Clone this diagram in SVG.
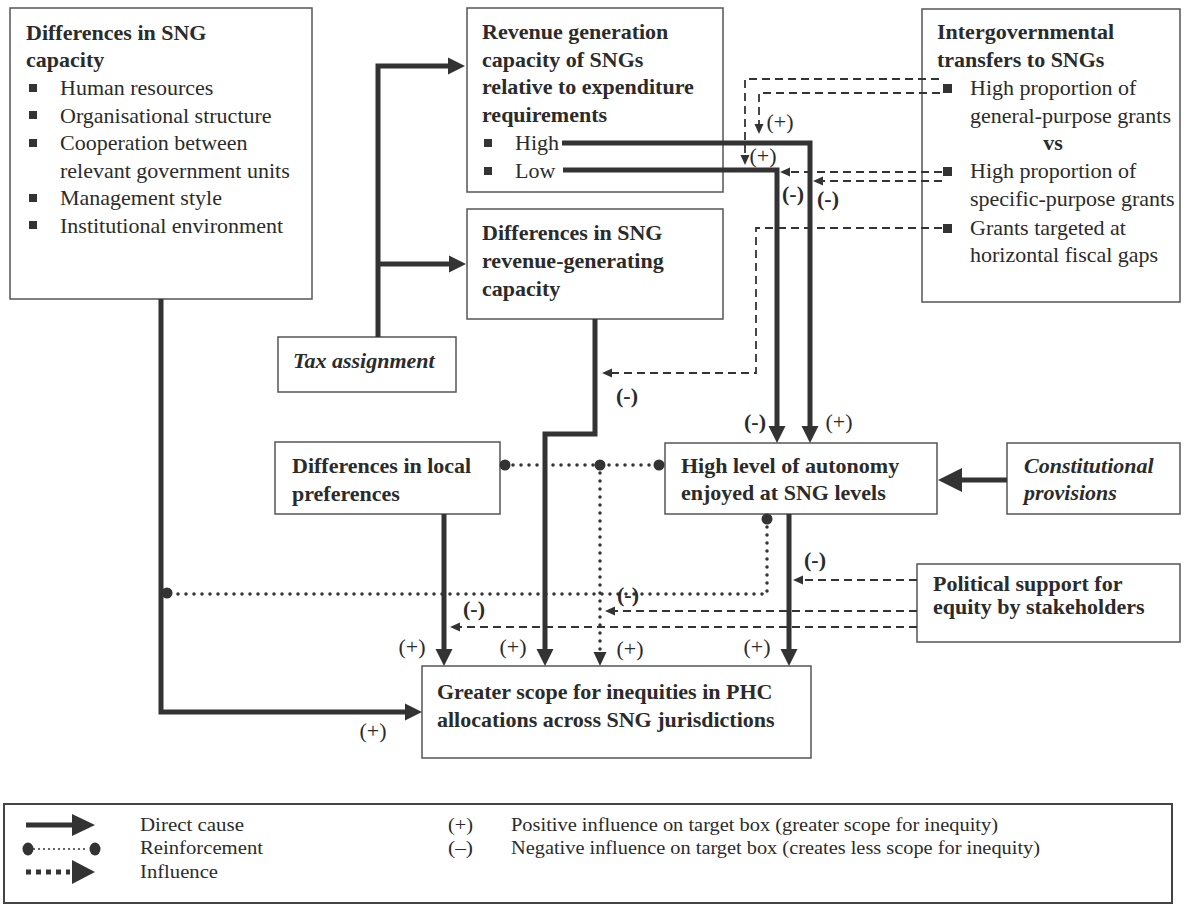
<svg xmlns="http://www.w3.org/2000/svg" width="1186" height="909" viewBox="0 0 1186 909">
<style>
text{font-family:"Liberation Serif","Times New Roman",serif;fill:#2b2b2b;font-size:22px}
.b{font-weight:bold}
.bi{font-weight:bold;font-style:italic}
.box{fill:#fff;stroke:#555;stroke-width:1.5}
.c{fill:none;stroke:#333;stroke-width:5}
.d{fill:none;stroke:#333;stroke-width:1.8;stroke-dasharray:8 5}
.r{fill:none;stroke:#333;stroke-width:3.5;stroke-dasharray:0 8;stroke-linecap:round}
.dot{fill:#333}
.sq{fill:#333}
.lab{text-anchor:middle}
.lg{font-size:18px}
</style>
<defs>
<marker id="aS" markerUnits="userSpaceOnUse" orient="auto" overflow="visible" refX="0" refY="0" markerWidth="20" markerHeight="20"><path d="M-3,-8.5 L14,0 L-3,8.5 z" fill="#333"/></marker>
<marker id="aB" markerUnits="userSpaceOnUse" orient="auto" overflow="visible" refX="0" refY="0" markerWidth="26" markerHeight="26"><path d="M-4,-12 L20,0 L-4,12 z" fill="#333"/></marker>
<marker id="aD" markerUnits="userSpaceOnUse" orient="auto" overflow="visible" refX="0" refY="0" markerWidth="12" markerHeight="12"><path d="M-2,-4.5 L8,0 L-2,4.5 z" fill="#333"/></marker>
<marker id="aR" markerUnits="userSpaceOnUse" orient="auto" overflow="visible" refX="0" refY="0" markerWidth="16" markerHeight="16"><path d="M-2,-6.5 L12,0 L-2,6.5 z" fill="#333"/></marker>
<marker id="aL" markerUnits="userSpaceOnUse" orient="auto" overflow="visible" refX="0" refY="0" markerWidth="26" markerHeight="26"><path d="M-3,-11 L20,0 L-3,11 z" fill="#333"/></marker>
</defs>

<g id="sng-capacity">
<rect class="box" x="10" y="8" width="302" height="291"/>
<text class="b" x="26" y="40">Differences in SNG</text>
<text class="b" x="26" y="67">capacity</text>
<rect class="sq" x="29" y="84" width="8" height="8"/><text x="60" y="95">Human resources</text>
<rect class="sq" x="29" y="111" width="8" height="8"/><text x="60" y="122.5">Organisational structure</text>
<rect class="sq" x="29" y="139" width="8" height="8"/><text x="60" y="150">Cooperation between</text>
<text x="60" y="177.5">relevant government units</text>
<rect class="sq" x="29" y="194" width="8" height="8"/><text x="60" y="205">Management style</text>
<rect class="sq" x="29" y="221" width="8" height="8"/><text x="60" y="232.5">Institutional environment</text>
</g>

<g id="revenue-capacity">
<rect class="box" x="467" y="8" width="256" height="184"/>
<text class="b" x="482" y="39">Revenue generation</text>
<text class="b" x="482" y="67">capacity of SNGs</text>
<text class="b" x="482" y="94">relative to expenditure</text>
<text class="b" x="482" y="122">requirements</text>
<rect class="sq" x="484" y="139" width="8" height="8"/><text x="515" y="150">High</text>
<rect class="sq" x="484" y="167" width="8" height="8"/><text x="515" y="178">Low</text>
</g>

<g id="transfers">
<rect class="box" x="922" y="9" width="258" height="293"/>
<text class="b" x="937" y="39">Intergovernmental</text>
<text class="b" x="937" y="67">transfers to SNGs</text>
<rect class="sq" x="943" y="84" width="9" height="9"/><text x="970" y="95">High proportion of</text>
<text x="970" y="123">general-purpose grants</text>
<text class="b" x="1053" y="150" text-anchor="middle">vs</text>
<rect class="sq" x="943" y="167" width="9" height="9"/><text x="970" y="178">High proportion of</text>
<text x="970" y="206">specific-purpose grants</text>
<rect class="sq" x="943" y="224" width="9" height="9"/><text x="970" y="235">Grants targeted at</text>
<text x="970" y="262">horizontal fiscal gaps</text>
</g>

<g id="revenue-differences">
<rect class="box" x="467" y="209" width="256" height="110"/>
<text class="b" x="482" y="240">Differences in SNG</text>
<text class="b" x="482" y="268">revenue-generating</text>
<text class="b" x="482" y="296">capacity</text>
</g>

<g id="tax-assignment">
<rect class="box" x="278" y="337" width="178" height="55"/>
<text class="bi" x="293" y="368">Tax assignment</text>
</g>

<g id="local-preferences">
<rect class="box" x="275" y="442" width="225" height="72"/>
<text class="b" x="292" y="473">Differences in local</text>
<text class="b" x="292" y="501">preferences</text>
</g>

<g id="autonomy">
<rect class="box" x="665" y="443" width="272" height="71"/>
<text class="b" x="681" y="473">High level of autonomy</text>
<text class="b" x="681" y="500">enjoyed at SNG levels</text>
</g>

<g id="constitutional">
<rect class="box" x="1007" y="443" width="173" height="71"/>
<text class="bi" x="1024" y="473">Constitutional</text>
<text class="bi" x="1024" y="500">provisions</text>
</g>

<g id="political-support">
<rect class="box" x="917" y="564" width="263" height="78"/>
<text class="b" x="933" y="591">Political support for</text>
<text class="b" x="933" y="614">equity by stakeholders</text>
</g>

<g id="inequities">
<rect class="box" x="422" y="666" width="389" height="92"/>
<text class="b" x="437" y="699">Greater scope for inequities in PHC</text>
<text class="b" x="437" y="727">allocations across SNG jurisdictions</text>
</g>

<g id="connectors">
<path class="c" d="M378,337 V66 H451" marker-end="url(#aS)"/>
<path class="c" d="M378,264 H452" marker-end="url(#aS)"/>
<path class="c" d="M562,143 H810 V429" marker-end="url(#aS)"/>
<path class="c" d="M563,170 H777 V429" marker-end="url(#aS)"/>
<path class="c" d="M595,319 V434 H545 V652" marker-end="url(#aS)"/>
<path class="c" d="M444,514 V652" marker-end="url(#aS)"/>
<path class="c" d="M789,514 V652" marker-end="url(#aS)"/>
<path class="c" d="M161,299 V712 H408" marker-end="url(#aS)"/>
<path class="c" d="M1007,480 H958" marker-end="url(#aB)"/>

<path class="d" d="M939,79 H745 V157" marker-end="url(#aD)"/>
<path class="d" d="M940,93 H759 V126" marker-end="url(#aD)"/>
<path class="d" d="M942,172 H788" marker-end="url(#aD)"/>
<path class="d" d="M942,181 H821" marker-end="url(#aD)"/>
<path class="d" d="M942,228 H756 V373 H610" marker-end="url(#aD)"/>
<path class="d" d="M917,580 H801" marker-end="url(#aD)"/>
<path class="d" d="M917,611 H613" marker-end="url(#aD)"/>
<path class="d" d="M917,627 H458" marker-end="url(#aD)"/>

<path class="r" d="M505,465 H659"/>
<path class="r" d="M600,465 V654" marker-end="url(#aR)"/>
<path class="r" d="M767,519 V594 H168"/>
<circle class="dot" cx="505" cy="465" r="5.5"/>
<circle class="dot" cx="600" cy="465" r="5.5"/>
<circle class="dot" cx="659" cy="465" r="5.5"/>
<circle class="dot" cx="767" cy="519" r="5.5"/>
<circle class="dot" cx="167" cy="593" r="5.5"/>

<text class="lab" x="780" y="129">(+)</text>
<text class="lab" x="763" y="163">(+)</text>
<text class="lab b" x="793" y="201">(-)</text>
<text class="lab b" x="828" y="206">(-)</text>
<text class="lab b" x="627" y="403">(-)</text>
<text class="lab b" x="755" y="429">(-)</text>
<text class="lab" x="839" y="429">(+)</text>
<text class="lab b" x="815" y="567">(-)</text>
<text class="lab b" x="628" y="602">(-)</text>
<text class="lab b" x="474" y="616">(-)</text>
<text class="lab" x="412" y="654">(+)</text>
<text class="lab" x="513" y="654">(+)</text>
<text class="lab" x="630" y="656">(+)</text>
<text class="lab" x="757" y="654">(+)</text>
<text class="lab" x="373" y="738">(+)</text>
</g>

<g id="legend">
<rect x="4" y="804" width="1168" height="99" fill="#fff" stroke="#444" stroke-width="2"/>
<path class="c" d="M26,825 H75" marker-end="url(#aL)"/>
<path d="M34,849 H89" fill="none" stroke="#333" stroke-width="2" stroke-dasharray="0 5" stroke-linecap="round"/>
<ellipse class="dot" cx="28" cy="849" rx="5.5" ry="6.5"/>
<ellipse class="dot" cx="95" cy="849" rx="5.5" ry="6.5"/>
<path d="M26,872 H70" fill="none" stroke="#333" stroke-width="5" stroke-dasharray="5 5"/>
<path d="M72,860 L95,872 L72,884 z" fill="#333"/>
<text class="lg" x="140" y="831" textLength="104" lengthAdjust="spacingAndGlyphs">Direct cause</text>
<text class="lg" x="140" y="854" textLength="123" lengthAdjust="spacingAndGlyphs">Reinforcement</text>
<text class="lg" x="140" y="878" textLength="78" lengthAdjust="spacingAndGlyphs">Influence</text>
<text class="lg" x="448" y="831" textLength="25" lengthAdjust="spacingAndGlyphs">(+)</text>
<text class="lg" x="448" y="854" textLength="25" lengthAdjust="spacingAndGlyphs">(–)</text>
<text class="lg" x="511" y="831" textLength="487" lengthAdjust="spacingAndGlyphs">Positive influence on target box (greater scope for inequity)</text>
<text class="lg" x="511" y="854" textLength="529" lengthAdjust="spacingAndGlyphs">Negative influence on target box (creates less scope for inequity)</text>
</g>
</svg>
